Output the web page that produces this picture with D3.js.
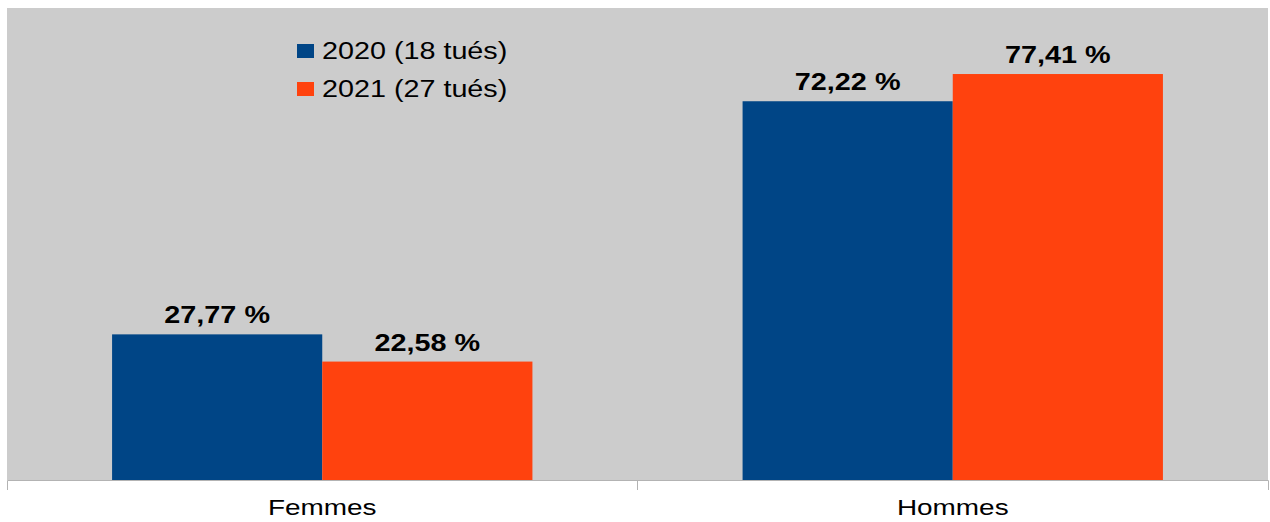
<!DOCTYPE html>
<html>
<head>
<meta charset="utf-8">
<script src="https://cdn.jsdelivr.net/npm/d3@7"></script>
<style>
  body { margin: 0; background: #ffffff; }
  text { font-family: "Liberation Sans", Arial, sans-serif; fill: #000; }
</style>
</head>
<body>
<div id="chart"></div>
<script>
// data
var categories = ["Femmes", "Hommes"];
var years = ["2020", "2021"];
var legendLabels = ["2020 (18 tués)", "2021 (27 tués)"];
var values2020 = [27.77, 72.22];
var values2021 = [22.58, 77.41];
var valueLabels2020 = ["27,77 %", "72,22 %"];
var valueLabels2021 = ["22,58 %", "77,41 %"];
var colors = ["#004586", "#ff420e"];

var width = 1270, height = 522;
var plot = {left: 7, right: 1268, top: 8, bottom: 480};

var rows = categories.map(function(c, i) {
  return {cat: c, vals: [
    {year: years[0], v: values2020[i], label: valueLabels2020[i]},
    {year: years[1], v: values2021[i], label: valueLabels2021[i]}
  ]};
});

var svg = d3.select("#chart").append("svg")
  .attr("width", width)
  .attr("height", height);

// plot background
svg.append("rect")
  .attr("x", plot.left)
  .attr("y", plot.top)
  .attr("width", plot.right - plot.left)
  .attr("height", plot.bottom - plot.top)
  .attr("fill", "#cccccc");

var x0 = d3.scaleBand().domain(categories).range([plot.left, plot.right]);
var x1 = d3.scaleBand().domain(years).range([0, x0.bandwidth()]).paddingInner(0).paddingOuter(0.5);
var y = d3.scaleLinear().domain([0, 90]).range([plot.bottom, plot.top]);
var color = d3.scaleOrdinal().domain(years).range(colors);

// bars
var groups = svg.selectAll(".cat")
  .data(rows)
  .enter().append("g")
  .attr("class", "cat")
  .attr("transform", d => `translate(${x0(d.cat)},0)`);

groups.selectAll("rect")
  .data(d => d.vals)
  .enter().append("rect")
  .attr("x", d => x1(d.year))
  .attr("y", d => y(d.v))
  .attr("width", x1.bandwidth())
  .attr("height", d => y(0) - y(d.v))
  .attr("fill", d => color(d.year));

// value labels (text in the picture is stretched sideways)
groups.selectAll("text")
  .data(d => d.vals)
  .enter().append("text")
  .attr("transform", d => `translate(${x1(d.year) + x1.bandwidth() / 2},${y(d.v) - 11}) scale(1.2,1)`)
  .attr("text-anchor", "middle")
  .style("font-size", "24px")
  .style("font-weight", "bold")
  .text(d => d.label);

// x axis
var xAxis = svg.append("g")
  .attr("transform", `translate(0,${plot.bottom})`)
  .call(d3.axisBottom(x0).tickSizeInner(0).tickSizeOuter(10));

xAxis.select(".domain").attr("stroke", "#b3b3b3");
xAxis.selectAll(".tick text")
  .attr("y", 35)
  .attr("dy", null)
  .attr("transform", "scale(1.27,1)")
  .style("font-size", "22px")
  .attr("fill", "#000");

// tick between the two categories
xAxis.selectAll(".sep")
  .data(categories.slice(1))
  .enter().append("line")
  .attr("class", "sep")
  .attr("x1", d => x0(d)).attr("x2", d => x0(d))
  .attr("y1", 0).attr("y2", 10)
  .attr("stroke", "#b3b3b3");

// legend
var legend = svg.append("g")
  .attr("transform", "translate(297,44)");

var items = legend.selectAll("g")
  .data(years)
  .enter().append("g")
  .attr("transform", (d, i) => `translate(0,${i * 38})`);

items.append("rect")
  .attr("width", 17)
  .attr("height", 14)
  .attr("fill", d => color(d));

items.append("text")
  .attr("transform", "translate(25,14.5) scale(1.25,1)")
  .style("font-size", "23px")
  .text((d, i) => legendLabels[i]);
</script>
</body>
</html>
